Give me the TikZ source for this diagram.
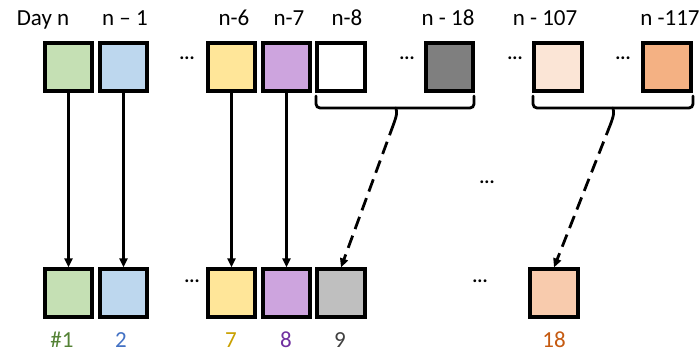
\documentclass[tikz,border=0pt]{standalone}
\usepackage{fontspec}
\setmainfont{Carlito}
\usetikzlibrary{arrows.meta}
\definecolor{cgreen}{HTML}{C5E0B4}
\definecolor{cblue}{HTML}{BDD7EE}
\definecolor{cyellow}{HTML}{FFE699}
\definecolor{cpurple}{HTML}{CDA4DE}
\definecolor{cdark}{HTML}{7F7F7F}
\definecolor{cpeach}{HTML}{FBE5D6}
\definecolor{corange}{HTML}{F4B183}
\definecolor{cgray}{HTML}{BFBFBF}
\definecolor{csalmon}{HTML}{F8CBAD}
\definecolor{tgreen}{HTML}{548235}
\definecolor{tblue}{HTML}{4472C4}
\definecolor{tgold}{HTML}{C9A000}
\definecolor{tpurple}{HTML}{7030A0}
\definecolor{tgray}{HTML}{404040}
\definecolor{torange}{HTML}{C55A11}
\begin{document}
\begin{tikzpicture}[x=1pt,y=-1pt,
  daybox/.style={draw=black,line width=3.6pt,minimum size=47.5pt,inner sep=0pt,fill=#1},
  lbl/.style={font=\fontsize{23}{26}\selectfont,inner sep=0pt,anchor=base},
  dots/.style={font=\fontsize{19}{21}\selectfont\bfseries,inner sep=0pt},
  link/.style={line width=2.8pt,-{Triangle[length=9pt,width=8pt]}},
  dlink/.style={link,dash pattern=on 13pt off 7pt},
  curly/.style={line width=2.8pt,rounded corners=4pt,line cap=round}]
\useasboundingbox (0,0) rectangle (700,352);
% input days
\node[daybox=cgreen]  (t1)   at (68.5,67) {};
\node[daybox=cblue]   (t2)   at (123.5,67) {};
\node[daybox=cyellow] (t7)   at (231.5,67) {};
\node[daybox=cpurple] (t8)   at (286.5,67) {};
\node[daybox=white]   (t9)   at (341,67) {};
\node[daybox=cdark]   (t19)  at (449.5,67) {};
\node[daybox=cpeach]  (t108) at (558,67) {};
\node[daybox=corange] (t118) at (667,67) {};
% day labels
\node[lbl] (l1)   at (43,26) {Day n};
\node[lbl] (l2)   at (125,26) {n – 1};
\node[lbl] (l7)   at (234,26) {n-6};
\node[lbl] (l8)   at (289,26) {n-7};
\node[lbl] (l9)   at (347,26) {n-8};
\node[lbl] (l19)  at (448,26) {n - 18};
\node[lbl] (l108) at (545,26) {n - 107};
\node[lbl] (l118) at (670,26) {n -117};
% feature slots
\node[daybox=cgreen]  (b1)  at (68.5,293) {};
\node[daybox=cblue]   (b2)  at (123.5,293) {};
\node[daybox=cyellow] (b7)  at (231.5,293) {};
\node[daybox=cpurple] (b8)  at (286.5,293) {};
\node[daybox=cgray]   (b9)  at (341,293) {};
\node[daybox=csalmon] (b18) at (554,293) {};
% slot indices
\node[lbl,text=tgreen]  (n1)  at (62,347) {\#1};
\node[lbl,text=tblue]   (n2)  at (121,347) {2};
\node[lbl,text=tgold]   (n7)  at (231,347) {7};
\node[lbl,text=tpurple] (n8)  at (286,347) {8};
\node[lbl,text=tgray]   (n9)  at (340,347) {9};
\node[lbl,text=torange] (n18) at (554,347) {18};
% ellipses
\node[dots] (d1) at (187,58) {...};
\node[dots] (d2) at (407,58) {...};
\node[dots] (d3) at (515,58) {...};
\node[dots] (d4) at (623,58) {...};
\node[dots] (d5) at (487,182) {...};
\node[dots] (d6) at (192,281) {...};
\node[dots] (d7) at (480,281) {...};
% groups of days, bracketed from below
\coordinate (g1) at (394,123);
\coordinate (g2) at (611,123);
\draw[curly] (316,96) |- (396,108) -| (474,96);
\draw[curly] (396,108) .. controls (397,114) .. (g1);
\draw[curly] (533,96) |- (613,108) -| (693,96);
\draw[curly] (613,108) .. controls (614,114) .. (g2);
% direct mappings
\draw[link] (t1) -- (b1);
\draw[link] (t2) -- (b2);
\draw[link] (t7) -- (b7);
\draw[link] (t8) -- (b8);
% aggregated mappings
\draw[dlink] (g1) -- (b9.north);
\draw[dlink] (g2) -- (b18.north);
\end{tikzpicture}
\end{document}
